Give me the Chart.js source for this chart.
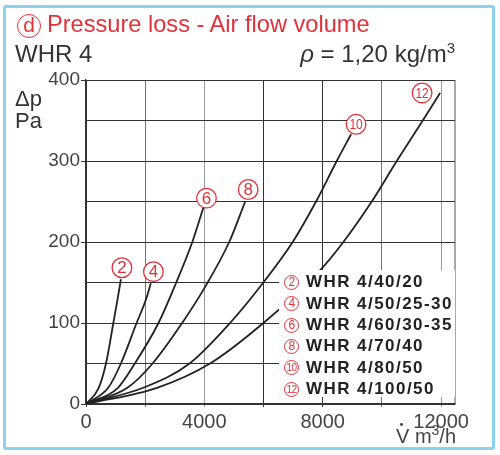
<!DOCTYPE html>
<html>
<head>
<meta charset="utf-8">
<script src="https://cdn.jsdelivr.net/npm/chart.js@4.4.0/dist/chart.umd.min.js"></script>
<style>
  body { margin: 0; background: #fff; font-family: "Liberation Sans", Arial, sans-serif; }
  #wrap { position: relative; width: 500px; height: 455px; overflow: hidden; }
  #frame { position: absolute; left: 3px; top: 5px; width: 492px; height: 445px; box-sizing: border-box;
           border: 3px solid #8dd3f0; border-radius: 3px; }
  canvas { position: absolute; left: 0; top: 0; }
  .t { position: absolute; line-height: 1; white-space: nowrap; color: #333; }
  #title { left: 47px; top: 13.4px; font-size: 23.6px; color: #e2313b; }
  #titleBadge { position: absolute; left: 17px; top: 13.5px; width: 24px; height: 24px; box-sizing: border-box;
                border: 1.5px solid #e2313b; border-radius: 50%; color: #e2313b; font-size: 21px;
                line-height: 20px; text-align: center; }
  #vdot { position: absolute; left: 400.3px; top: 423px; width: 2.8px; height: 2.8px; border-radius: 50%; background: #444; }
  #legend { position: absolute; left: 279px; top: 270px; width: 176px; height: 127px; background: #fff; }
  .row { position: absolute; left: 0; height: 21.4px; display: flex; align-items: center; }
  .badge { display: inline-block; width: 15px; height: 15px; box-sizing: border-box; margin-left: 5px;
           border: 1px solid #e2313b; border-radius: 50%; color: #e2313b; font-size: 12px;
           line-height: 13px; text-align: center; letter-spacing: -0.5px; }
  .name { margin-left: 7px; font-weight: bold; font-size: 17px; letter-spacing: 1.45px; color: #222; }
</style>
</head>
<body>
<div id="wrap">
  <div id="frame"></div>
  <canvas id="chart" width="500" height="455"></canvas>
  <div id="titleBadge">d</div>
  <div class="t" id="title">Pressure loss - Air flow volume</div>
  <div class="t" style="left:15px;top:41.7px;font-size:24px;">WHR 4</div>
  <div class="t" style="right:45px;top:41.7px;font-size:24px;"><i>ρ</i> = 1,20 kg/m<span style="font-size:15px;position:relative;top:-9px;">3</span></div>
  <div class="t" style="left:15px;top:88px;font-size:22px;">Δp</div>
  <div class="t" style="left:15px;top:109.7px;font-size:22px;">Pa</div>
  <div class="t" style="left:396px;top:426.4px;font-size:20px;color:#444;">V m<span style="font-size:14px;position:relative;top:-8px;">3</span>/h</div>
  <div id="vdot"></div>
  <div id="legend"></div>
</div>
<script>
// series labels
const seriesNums = ["2", "4", "6", "8", "10", "12"];
const seriesNames = ["WHR 4/40/20", "WHR 4/50/25-30", "WHR 4/60/30-35", "WHR 4/70/40", "WHR 4/80/50", "WHR 4/100/50"];

// axis ticks
const xTicks = [0, 2000, 4000, 6000, 8000, 10000, 12000];
const yTicks = [0, 50, 100, 150, 200, 250, 300, 350, 400];

// air flow volume (m3/h) and pressure loss (Pa)
const flow2 = [0, 430, 676, 924, 1060, 1180];
const dp2   = [0, 20, 50, 100, 128, 154];
const flow4 = [0, 750, 1180, 1710, 2017, 2190];
const dp4   = [0, 20, 50, 100, 128, 149];
const flow6 = [0, 1080, 1650, 2450, 3050, 3593, 3970];
const dp6   = [0, 20, 50, 100, 150, 200, 243];
const flow8 = [0, 1400, 2250, 3250, 4000, 4840, 5380];
const dp8   = [0, 20, 50, 100, 143, 200, 250];
const flow10 = [0, 2000, 3500, 4868, 5994, 6986, 7775, 8474, 8958];
const dp10   = [0, 21, 50, 100, 150, 200, 250, 300, 333];
const flow12 = [0, 2400, 4192, 5994, 7910, 8698, 9657, 10502, 11381, 11966];
const dp12   = [0, 20, 50, 100, 165, 200, 250, 300, 350, 384];

const flows = [flow2, flow4, flow6, flow8, flow10, flow12];
const dps = [dp2, dp4, dp6, dp8, dp10, dp12];

// where the circled number sits relative to the curve end (px)
const labelOffsets = [[1, -11.5], [2.6, -11.6], [3, -9], [3, -12], [5, -10], [-18, 0]];

const RED = "#e2313b";
const FONT = '"Liberation Sans", Arial, sans-serif';

// legend (white box drawn over the plot)
const legendEl = document.getElementById("legend");
seriesNames.forEach((n, i) => {
  const row = document.createElement("div");
  row.className = "row";
  row.style.top = (1.6 + 21.4 * i) + "px";
  const fs = seriesNums[i].length > 1 ? "font-size:10px;" : "";
  row.innerHTML = `<span class="badge" style="${fs}">${seriesNums[i]}</span><span class="name">${n}</span>`;
  legendEl.appendChild(row);
});

function vGridColor(v) {
  if (v === 4000 || v === 12000) return "#9a9a9a";
  if (v === 2000 || v === 10000) return "#777";
  return "#333";
}

const endLabels = {
  id: "endLabels",
  afterDatasetsDraw(chart) {
    const { ctx, scales: { x, y }, chartArea } = chart;
    ctx.save();
    // right frame edge
    ctx.strokeStyle = "#555";
    ctx.lineWidth = 1;
    ctx.beginPath();
    ctx.moveTo(chartArea.right, chartArea.top);
    ctx.lineTo(chartArea.right, chartArea.bottom);
    ctx.stroke();

    chart.data.datasets.forEach((ds, i) => {
      const p = ds.data[ds.data.length - 1];
      const cx = x.getPixelForValue(p.x) + labelOffsets[i][0];
      const cy = y.getPixelForValue(p.y) + labelOffsets[i][1];
      ctx.beginPath();
      ctx.arc(cx, cy, 9.8, 0, Math.PI * 2);
      ctx.fillStyle = "#fff";
      ctx.fill();
      ctx.lineWidth = 1.3;
      ctx.strokeStyle = RED;
      ctx.stroke();
      ctx.fillStyle = RED;
      ctx.textAlign = "center";
      ctx.textBaseline = "middle";
      const txt = seriesNums[i];
      if (txt.length > 1) {
        ctx.save();
        ctx.translate(cx, cy + 1);
        ctx.scale(0.8, 1);
        ctx.font = "15px " + FONT;
        ctx.fillText(txt, 0, 0);
        ctx.restore();
      } else {
        ctx.font = "17px " + FONT;
        ctx.fillText(txt, cx, cy + 1);
      }
    });
    ctx.restore();
  }
};

const datasets = flows.map((f, i) => ({
  label: seriesNames[i],
  data: f.map((v, k) => ({ x: v, y: dps[i][k] })),
  showLine: true,
  borderColor: "#222",
  borderWidth: 1.8,
  pointRadius: 0,
  cubicInterpolationMode: "monotone",
  fill: false
}));

new Chart(document.getElementById("chart").getContext("2d"), {
  type: "scatter",
  data: { datasets },
  options: {
    responsive: false,
    animation: false,
    layout: { padding: { top: 80, right: 45, left: 0, bottom: 0 } },
    plugins: { legend: { display: false }, tooltip: { enabled: false } },
    scales: {
      x: {
        type: "linear", min: 0, max: 12470,
        afterBuildTicks(s) { s.ticks = xTicks.map(v => ({ value: v })); },
        afterFit(s) { s.height = 51; },
        ticks: {
          autoSkip: false, maxRotation: 0, padding: 3,
          color: "#444", font: { family: FONT, size: 20 },
          callback: v => (v % 4000 === 0 ? String(v) : "")
        },
        grid: { tickLength: 3, color: c => vGridColor(c.tick ? c.tick.value : 0), lineWidth: 1 },
        border: { color: "#333", width: 1.3 }
      },
      y: {
        min: 0, max: 400,
        afterBuildTicks(s) { s.ticks = yTicks.map(v => ({ value: v })); },
        afterFit(s) { s.width = 86; },
        ticks: {
          autoSkip: false, padding: 1,
          color: "#444", font: { family: FONT, size: 19 },
          callback: v => (v % 100 === 0 ? String(v) : "")
        },
        grid: {
          tickLength: 5, color: "#333", lineWidth: 1,
          tickColor: c => (c.tick && c.tick.value % 100 === 0 ? "#333" : "rgba(0,0,0,0)")
        },
        border: { color: "#333", width: 1.3 }
      }
    }
  },
  plugins: [endLabels]
});
</script>
</body>
</html>
